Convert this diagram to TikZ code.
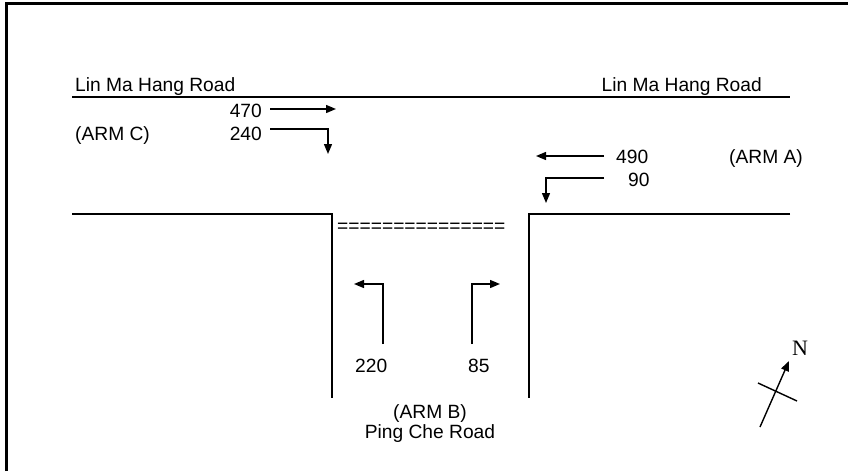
\documentclass[tikz,border=0pt]{standalone}
\usepackage{fontspec}
\setmainfont{Liberation Sans}
\newfontfamily\nfont{Liberation Serif}
\usetikzlibrary{arrows.meta}
\begin{document}
\begin{tikzpicture}[x=1pt,y=-1pt,
  road/.style={line width=1.3pt},
  frame/.style={line width=3pt},
  flow/.style={line width=1.4pt,-{Triangle[length=10pt,width=8pt]}},
  lbl/.style={inner sep=0pt,font=\fontsize{19.2}{21}\selectfont}]
\useasboundingbox (0,0) rectangle (848,471);
% frame
\coordinate (f1) at (6,471);
\coordinate (f2) at (6,3);
\coordinate (f3) at (848,3);
\draw[frame] (f1) -- (f2) -- (f3);
% road edges
\coordinate (r1) at (72,97); \coordinate (r2) at (790,97);
\draw[road] (r1) -- (r2);
\coordinate (l1) at (72,214); \coordinate (l2) at (332,214); \coordinate (l3) at (332,398);
\draw[road] (l1) -- (l2) -- (l3);
\coordinate (m1) at (790,214); \coordinate (m2) at (529,214); \coordinate (m3) at (529,398);
\draw[road] (m1) -- (m2) -- (m3);
% labels
\node[lbl,anchor=base west] (lmhl) at (75,91) {Lin Ma Hang Road};
\node[lbl,anchor=base east] (lmhr) at (762,91) {Lin Ma Hang Road};
\node[lbl,anchor=base east] (n470) at (262,117) {470};
\node[lbl,anchor=base east] (n240) at (262,140) {240};
\node[lbl,anchor=base west] (armc) at (75,140) {(ARM C)};
\node[lbl,anchor=base west] (n490) at (616,163) {490};
\node[lbl,anchor=base west] (n90) at (628,186) {90};
\node[lbl,anchor=base west] (arma) at (729,163) {(ARM A)};
\node[lbl,anchor=base west] (n220) at (355,372) {220};
\node[lbl,anchor=base west] (n85) at (468,372) {85};
\node[lbl,anchor=base] (armb) at (430,418) {(ARM B)};
\node[lbl,anchor=base] (pcr) at (430,438) {Ping Che Road};
\node[lbl,anchor=base west] (eq) at (337,232) {===============};
% flow arrows
\coordinate (a470s) at (270,109); \coordinate (a470e) at (336,109);
\draw[flow] (a470s) -- (a470e);
\coordinate (a240s) at (270,129); \coordinate (a240c) at (328,129); \coordinate (a240e) at (328,154);
\draw[flow] (a240s) -- (a240c) -- (a240e);
\coordinate (a490s) at (604,156); \coordinate (a490e) at (536,156);
\draw[flow] (a490s) -- (a490e);
\coordinate (a90s) at (604,178); \coordinate (a90c) at (546,178); \coordinate (a90e) at (546,203);
\draw[flow] (a90s) -- (a90c) -- (a90e);
\coordinate (a220s) at (383,344); \coordinate (a220c) at (383,284); \coordinate (a220e) at (354,284);
\draw[flow] (a220s) -- (a220c) -- (a220e);
\coordinate (a85s) at (472,344); \coordinate (a85c) at (472,284); \coordinate (a85e) at (500,284);
\draw[flow] (a85s) -- (a85c) -- (a85e);
% north arrow
\coordinate (ns) at (760,427); \coordinate (ne) at (789,361);
\draw[flow] (ns) -- (ne);
\coordinate (c1) at (758,383); \coordinate (c2) at (797,401);
\draw[road,line width=1.4pt] (c1) -- (c2);
\node[inner sep=0pt,anchor=base,font=\nfont\fontsize{22}{24}\selectfont] (nn) at (800,355) {N};
\end{tikzpicture}
\end{document}
